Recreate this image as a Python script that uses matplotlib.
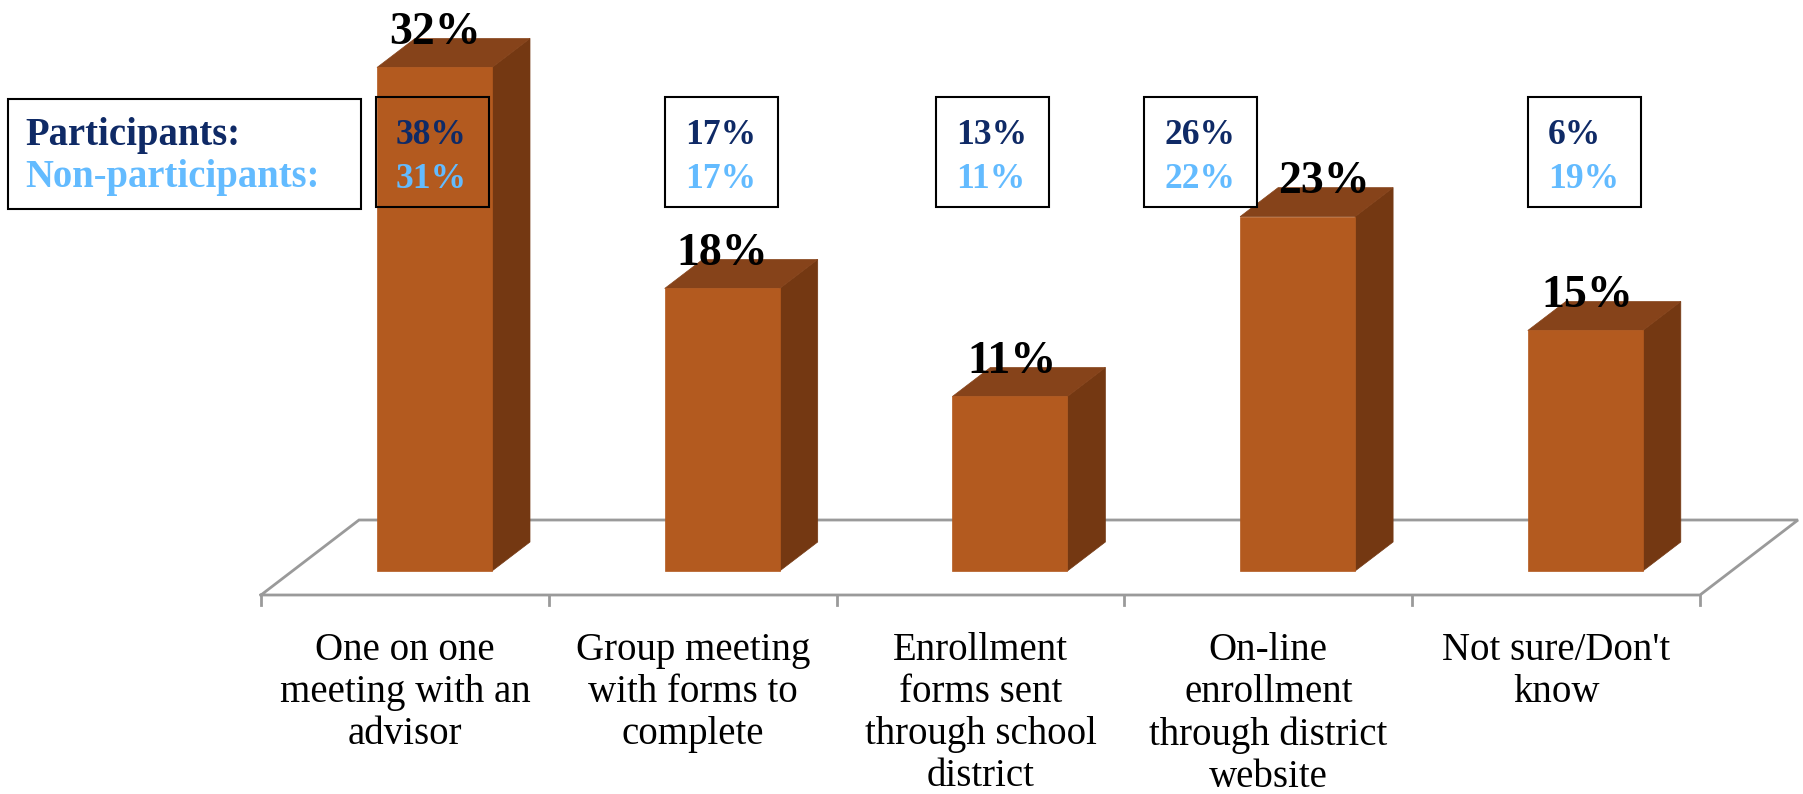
import matplotlib
matplotlib.use("Agg")
import matplotlib.pyplot as plt
from matplotlib.patches import Polygon, Rectangle

plt.rcParams['font.family'] = ['Liberation Serif', 'DejaVu Serif']

# Datos ------------------------------
categorias = ["One on one\nmeeting with an\nadvisor",
              "Group meeting\nwith forms to\ncomplete",
              "Enrollment\nforms sent\nthrough school\ndistrict",
              "On-line\nenrollment\nthrough district\nwebsite",
              "Not sure/Don't\nknow"]
alturas = [31.97, 17.94, 11.08, 22.5, 15.27]
etiquetas = ["32%", "18%", "11%", "23%", "15%"]
participantes = ["38%", "17%", "13%", "26%", "6%"]
no_participantes = ["31%", "17%", "11%", "22%", "19%"]

# Escala: pixeles de la imagen <-> unidades de los ejes
W, H = 1803, 794
X0, PX_CAT = 434.5, 287.7   # centro de la primera barra, pixeles por categoria
Y0, PX_PCT = 571.0, 15.75   # base de las barras, pixeles por punto porcentual

def px(x):
    return (x - X0)/PX_CAT

def py(y):
    return (Y0 - y)/PX_PCT

fig = plt.figure(figsize=(W/100, H/100), dpi=100, facecolor="white")
ax = fig.add_axes([0, 0, 1, 1])
ax.set_xlim(px(0), px(W))
ax.set_ylim(py(H), py(0))
ax.axis("off")

FRENTE, TAPA, LADO = "#B35A1F", "#86431A", "#743812"
GRIS = "#9A9A9A"
OSCURO, CLARO = "#0F2A66", "#63BBFF"
ancho = 115/PX_CAT
dx = 38/PX_CAT
dy = 29/PX_PCT

# Piso ------------------------------
ax.plot([px(261), px(1700), px(1798), px(359), px(261)],
        [py(595), py(595), py(520), py(520), py(595)],
        color=GRIS, lw=2, zorder=1, solid_joinstyle="miter")
for k in range(6):
    xt = px(261 + k*287.8)
    ax.plot([xt, xt], [py(595), py(605)], color=GRIS, lw=2, zorder=1)

# Barras ------------------------------
for i, h in enumerate(alturas):
    x1 = i - ancho/2
    x2 = i + ancho/2
    ax.add_patch(Polygon([(x2, 0), (x2 + dx, dy), (x2 + dx, h + dy), (x2, h)],
                         fc=LADO, ec=LADO, lw=0.5, zorder=2))
    ax.add_patch(Polygon([(x1, h), (x2, h), (x2 + dx, h + dy), (x1 + dx, h + dy)],
                         fc=TAPA, ec=TAPA, lw=0.5, zorder=2))
    ax.add_patch(Rectangle((x1, 0), ancho, h, fc=FRENTE, ec=FRENTE, lw=0.5, zorder=3))

# Etiquetas de las barras ------------------------------
x_etq = [435, 722, 1012, 1324, 1587]
y_etq = [33, 254, 362, 182, 296]
for xe, ye, t in zip(x_etq, y_etq, etiquetas):
    ax.text(px(xe), py(ye), t, ha="center", va="center", fontsize=33,
            fontweight="bold", color="black", zorder=6)

# Categorias ------------------------------
for i, t in enumerate(categorias):
    ax.text(px(261 + (i + 0.5)*287.8), py(632), t, ha="center", va="top",
            fontsize=28, color="black", linespacing=1.18, zorder=6)

# Cajas ------------------------------
def caja(x1, x2, y1, y2, relleno):
    ax.add_patch(Rectangle((px(x1), py(y2)), px(x2) - px(x1), py(y1) - py(y2),
                           fc=relleno, ec="black", lw=1.5, zorder=4))

caja(8, 361, 99, 209, "white")
ax.text(px(25), py(135), "Participants:", ha="left", va="center", fontsize=27.8,
        fontweight="bold", color=OSCURO, zorder=6)
ax.text(px(25), py(178), "Non-participants:", ha="left", va="center", fontsize=27.8,
        fontweight="bold", color=CLARO, zorder=6)

x_cajas = [376, 665, 936, 1144, 1528]
for k, (xc, a, b) in enumerate(zip(x_cajas, participantes, no_participantes)):
    caja(xc, xc + 113, 97, 207, "none" if k == 0 else "white")
    ax.text(px(xc + 20), py(135), a, ha="left", va="center", fontsize=25.6,
            fontweight="bold", color=OSCURO, zorder=6)
    ax.text(px(xc + 20), py(179), b, ha="left", va="center", fontsize=25.6,
            fontweight="bold", color=CLARO, zorder=6)

fig.savefig("out.png", dpi=100)
